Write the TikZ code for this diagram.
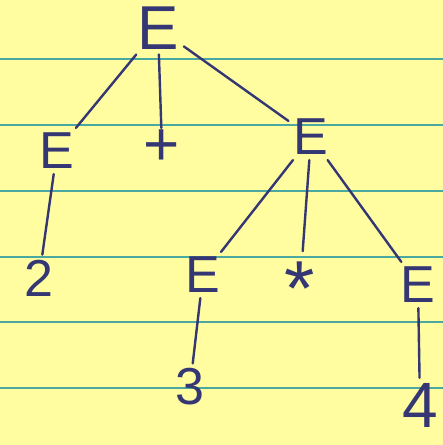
\documentclass[tikz,border=0pt]{standalone}
\usepackage{fontspec}
\setmainfont{Liberation Sans}
\definecolor{paper}{RGB}{255,253,160}
\definecolor{rulec}{RGB}{75,168,160}
\definecolor{ink}{RGB}{52,55,115}
\begin{document}
\begin{tikzpicture}[x=1pt,y=-1pt,
  sym/.style={text=ink, inner sep=5pt, font=\fontsize{52}{52}\selectfont},
  big/.style={sym, font=\fontsize{62}{62}\selectfont},
  edge/.style={draw=ink, line width=2.4pt, line cap=round}]
\fill[paper] (0,0) rectangle (443,445);
\useasboundingbox (0,0) rectangle (443,445);
\foreach \y in {59,125,191,257,322,388} \draw[rulec, line width=1.8pt] (0,\y) -- (443,\y);
\node[big] (root) at (158,28) {E};
\node[sym] (el) at (57,151) {E};
\node[sym, font=\fontsize{62}{62}\selectfont, inner sep=2pt] (plus) at (162,148) {+};
\node[sym] (er) at (311,137) {E};
\node[sym] (two) at (39,278) {2};
\node[sym] (em) at (203,275) {E};
\node[sym, font=\fontsize{78}{78}\selectfont, anchor=base, inner sep=0pt] (star) at (300,315) {*};
\node[sym] (eb) at (418,285) {E};
\node[sym] (three) at (190,387) {3};
\node[sym, font=\fontsize{64}{64}\selectfont] (four) at (420,405) {4};
\draw[edge] (root) -- (el);
\draw[edge] (root) -- (plus);
\draw[edge] (root) -- (er);
\draw[edge] (el) -- (two);
\draw[edge] (er) -- (em);
\draw[edge, shorten >=10pt] (er) -- (star);
\draw[edge] (er) -- (eb);
\draw[edge] (em) -- (three);
\draw[edge] (eb) -- (four);
\end{tikzpicture}
\end{document}
